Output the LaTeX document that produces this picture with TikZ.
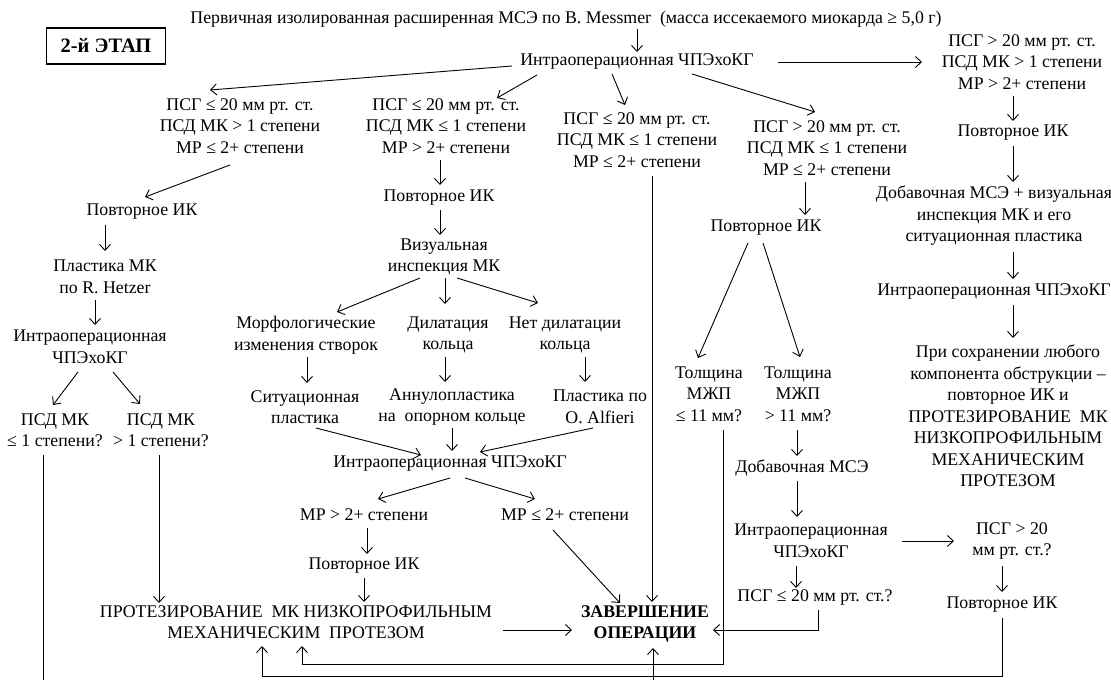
\documentclass[tikz,border=0pt]{standalone}
\usepackage{fontspec}
\setmainfont{Liberation Serif}
\usetikzlibrary{arrows.meta}
\begin{document}
\begin{tikzpicture}[x=1pt,y=-1pt,
  every node/.style={font=\fontsize{17.8}{21.5}\selectfont, align=center, inner sep=0pt},
  arr/.style={line width=0.9pt, -{Straight Barb[length=6pt,width=11pt,line width=0.9pt]}},
  ln/.style={line width=0.9pt},
  bold/.style={font=\fontsize{17.8}{21.5}\selectfont\bfseries}]
\useasboundingbox (0,0) rectangle (1111,680);

% nodes
\node[draw, line width=1.3pt, minimum width=119pt, minimum height=36pt, font=\fontsize{20.5}{24}\selectfont\bfseries] (title) at (106,46) {2-й ЭТАП};
\node (T0) at (566,19) {Первичная изолированная расширенная МСЭ по B. Messmer~ (масса иссекаемого миокарда ≥ 5,0 г)};
\node (I1) at (637,62) {Интраоперационная ЧПЭхоКГ};
\node (R1) at (1022,62) {ПСГ > 20 мм рт. ст.\\ПСД МК > 1 степени\\МР > 2+ степени};
\node (R2) at (1013,133) {Повторное ИК};
\node (R3) at (994,216) {Добавочная МСЭ + визуальная\\инспекция МК и его\\ситуационная пластика};
\node (R4) at (994,291) {Интраоперационная ЧПЭхоКГ};
\node (R5) at (1008,416) {При сохранении любого\\компонента обструкции –\\повторное ИК и\\ПРОТЕЗИРОВАНИЕ~ МК\\НИЗКОПРОФИЛЬНЫМ\\МЕХАНИЧЕСКИМ\\ПРОТЕЗОМ};

\node (L1) at (240,126) {ПСГ ≤ 20 мм рт. ст.\\ПСД МК > 1 степени\\МР ≤ 2+ степени};
\node (M1) at (446,126) {ПСГ ≤ 20 мм рт. ст.\\ПСД МК ≤ 1 степени\\МР > 2+ степени};
\node (C1) at (637,140) {ПСГ ≤ 20 мм рт. ст.\\ПСД МК ≤ 1 степени\\МР ≤ 2+ степени};
\node (D1) at (827,148) {ПСГ > 20 мм рт. ст.\\ПСД МК ≤ 1 степени\\МР ≤ 2+ степени};

\node (L2) at (142,212) {Повторное ИК};
\node (L3) at (105,277) {Пластика МК\\по R. Hetzer};
\node (L4) at (90,347) {Интраоперационная\\ЧПЭхоКГ};
\node (L5a) at (55,430) {ПСД МК\\≤ 1 степени?};
\node (L5b) at (161,430) {ПСД МК\\> 1 степени?};

\node (M2) at (439,198) {Повторное ИК};
\node (M3) at (444,257) {Визуальная\\инспекция МК};
\node (Morph) at (306,335) {Морфологические\\изменения створок};
\node (Dil) at (448,335) {Дилатация\\кольца};
\node (NoDil) at (565,335) {Нет дилатации\\кольца};
\node (Sit) at (305,407) {Ситуационная\\пластика};
\node (Ann) at (452,407) {Аннулопластика\\на~ опорном кольце};
\node (Alf) at (600,407) {Пластика по\\O. Alfieri};
\node (I2) at (450,463) {Интраоперационная ЧПЭхоКГ};
\node (MRa) at (364,515) {МР > 2+ степени};
\node (MRb) at (565,515) {МР ≤ 2+ степени};
\node (M5) at (364,566) {Повторное ИК};
\node (P) at (296,622) {ПРОТЕЗИРОВАНИЕ~ МК НИЗКОПРОФИЛЬНЫМ\\МЕХАНИЧЕСКИМ~ ПРОТЕЗОМ};
\node[bold] (Z) at (645,624) {ЗАВЕРШЕНИЕ\\ОПЕРАЦИИ};

\node (D2) at (766,228) {Повторное ИК};
\node (Tl1) at (709,394) {Толщина\\МЖП\\≤ 11 мм?};
\node (Tl2) at (798,394) {Толщина\\МЖП\\> 11 мм?};
\node (D3) at (802,468) {Добавочная МСЭ};
\node (D4) at (811,541) {Интраоперационная\\ЧПЭхоКГ};
\node (D5) at (1012,541) {ПСГ > 20\\мм рт. ст.?};
\node (D6) at (815,597) {ПСГ ≤ 20 мм рт. ст.?};
\node (D7) at (1002,605) {Повторное ИК};

\coordinate (bl) at (43,680);
\coordinate (bz) at (653,680);

% connectors
\draw[arr] ([shift={(71,10)}]T0.center) -- ([shift={(0,-10)}]I1.center);
\draw[arr] ([shift={(141,0)}]I1.center) -- ([shift={(-100,0)}]R1.center);
\draw[arr] ([shift={(-9,34)}]R1.center) -- ([shift={(0,-12)}]R2.center);
\draw[arr] ([shift={(0,13)}]R2.center) -- ([shift={(19,-34)}]R3.center);
\draw[arr] ([shift={(19,36)}]R3.center) -- ([shift={(19,-12)}]R4.center);
\draw[arr] ([shift={(19,14)}]R4.center) -- ([shift={(5,-78)}]R5.center);

\draw[arr] ([shift={(-125,4)}]I1.center) -- ([shift={(-30,-36)}]L1.center);
\draw[arr] ([shift={(-100,13)}]I1.center) -- ([shift={(51,-28)}]M1.center);
\draw[arr] ([shift={(-25,12)}]I1.center) -- ([shift={(-12,-35)}]C1.center);
\draw[arr] ([shift={(55,12)}]I1.center) -- ([shift={(-12,-36)}]D1.center);

\draw[arr] ([shift={(-10,39)}]L1.center) -- ([shift={(3,-15)}]L2.center);
\draw[arr] ([shift={(-37,13)}]L2.center) -- ([shift={(0,-26)}]L3.center);
\draw[arr] ([shift={(-10,23)}]L3.center) -- ([shift={(5,-22)}]L4.center);
\draw[arr] ([shift={(-12,25)}]L4.center) -- ([shift={(-2,-25)}]L5a.center);
\draw[arr] ([shift={(23,25)}]L4.center) -- ([shift={(-21,-26)}]L5b.center);
\draw[ln] ([shift={(-12,25)}]L5a.center) -- (bl);
\draw[arr] ([shift={(-2,25)}]L5b.center) -- ([shift={(-137,-19)}]P.center);

\draw[arr] ([shift={(-6,34)}]M1.center) -- ([shift={(1,-13)}]M2.center);
\draw[arr] ([shift={(1,12)}]M2.center) -- ([shift={(-4,-22)}]M3.center);
\draw[arr] ([shift={(-24,21)}]M3.center) -- ([shift={(31,-23)}]Morph.center);
\draw[arr] ([shift={(1,21)}]M3.center) -- ([shift={(-3,-31)}]Dil.center);
\draw[arr] ([shift={(13,21)}]M3.center) -- ([shift={(-27,-32)}]NoDil.center);
\draw[arr] ([shift={(1,22)}]Morph.center) -- ([shift={(2,-24)}]Sit.center);
\draw[arr] ([shift={(-3,22)}]Dil.center) -- ([shift={(-7,-25)}]Ann.center);
\draw[arr] ([shift={(20,22)}]NoDil.center) -- ([shift={(-15,-25)}]Alf.center);
\draw[arr] ([shift={(11,21)}]Sit.center) -- ([shift={(-29,-8)}]I2.center);
\draw[arr] ([shift={(0,21)}]Ann.center) -- ([shift={(2,-12)}]I2.center);
\draw[arr] ([shift={(-7,21)}]Alf.center) -- ([shift={(30,-11)}]I2.center);
\draw[arr] ([shift={(0,15)}]I2.center) -- ([shift={(14,-16)}]MRa.center);
\draw[arr] ([shift={(15,15)}]I2.center) -- ([shift={(-30,-16)}]MRb.center);
\draw[arr] ([shift={(3,13)}]MRa.center) -- ([shift={(3,-12)}]M5.center);
\draw[arr] ([shift={(0,12)}]M5.center) -- ([shift={(68,-20)}]P.center);
\draw[arr] ([shift={(-12,15)}]MRb.center) -- ([shift={(-25,-21)}]Z.center);
\draw[arr] ([shift={(15,36)}]C1.center) -- ([shift={(7,-22)}]Z.center);
\draw[arr] ([shift={(207,8)}]P.center) -- ([shift={(-73,6)}]Z.center);

\draw[arr] ([shift={(-22,34)}]D1.center) -- ([shift={(39,-13)}]D2.center);
\draw[arr] ([shift={(-18,15)}]D2.center) -- ([shift={(-11,-36)}]Tl1.center);
\draw[arr] ([shift={(-3,15)}]D2.center) -- ([shift={(2,-37)}]Tl2.center);
\draw[arr] ([shift={(14,36)}]Tl1.center) |- ([shift={(6,42)}]P.center) -- ([shift={(6,24)}]P.center);
\draw[arr] ([shift={(-1,36)}]Tl2.center) -- ([shift={(-5,-12)}]D3.center);
\draw[arr] ([shift={(-5,13)}]D3.center) -- ([shift={(-14,-24)}]D4.center);
\draw[arr] ([shift={(91,0)}]D4.center) -- ([shift={(-58,0)}]D5.center);
\draw[arr] ([shift={(-15,25)}]D4.center) -- ([shift={(-19,-9)}]D6.center);
\draw[arr] ([shift={(3,13)}]D6.center) |- ([shift={(68,6)}]Z.center);
\draw[arr] ([shift={(-10,25)}]D5.center) -- ([shift={(0,-13)}]D7.center);
\draw[arr] ([shift={(0,13)}]D7.center) |- ([shift={(-34,54)}]P.center) -- ([shift={(-34,24)}]P.center);
\draw[arr] (bz) -- ([shift={(8,24)}]Z.center);
\end{tikzpicture}
\end{document}
